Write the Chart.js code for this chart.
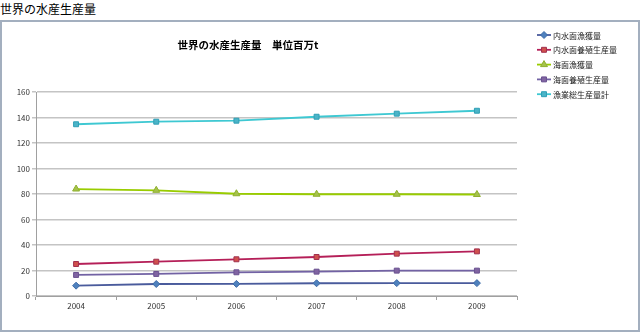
<!DOCTYPE html>
<html>
<head>
<meta charset="utf-8">
<script src="https://cdn.jsdelivr.net/npm/chart.js@4/dist/chart.umd.min.js"></script>
<style>
  body { margin: 0; background: #fff; font-family: "Noto Sans CJK JP", sans-serif; }
  #page-title { position: absolute; left: 0; top: 1px; font-size: 12px; line-height: 15px; color: #000; }
  #box { position: absolute; left: 0; top: 20px; width: 640px; height: 312px; box-sizing: border-box; border: 2px solid #a3afbf; }
  #chart-wrap { width: 636px; height: 308px; }
</style>
</head>
<body>
<div id="page-title">世界の水産生産量</div>
<div id="box"><div id="chart-wrap"><canvas id="chart"></canvas></div></div>
<script>
// Data (単位 百万t)
const years = ['2004', '2005', '2006', '2007', '2008', '2009'];
const seriesNames = ['内水面漁獲量', '内水面養殖生産量', '海面漁獲量', '海面養殖生産量', '漁業総生産量計'];
const inlandCatch = [8.1, 9.4, 9.5, 10.0, 10.1, 10.1];
const inlandAqua = [25.1, 26.9, 28.8, 30.6, 33.2, 35.0];
const marineCatch = [83.9, 82.9, 80.2, 79.8, 79.8, 79.6];
const marineAqua = [16.5, 17.3, 18.6, 19.1, 19.9, 19.9];
const totalProd = [134.7, 136.7, 137.5, 140.6, 143.0, 145.3];
const yTicks = [0, 20, 40, 60, 80, 100, 120, 140, 160];

const chartTitle = '世界の水産生産量　単位百万t';
const jpFont = '"Noto Sans CJK JP", sans-serif';

// line colour, marker fill, marker border, marker shape
const styles = [
    { line: '#4a5b9c', fill: '#4f81bd', border: '#3f6ca8', shape: 'rectRot', r: 3.5 },
    { line: '#b51f58', fill: '#d0504d', border: '#a0304e', shape: 'rect', r: 3.5 },
    { line: '#99cc00', fill: '#a5c24a', border: '#8fb030', shape: 'triangle', r: 4 },
    { line: '#7262a4', fill: '#8064a2', border: '#6a5290', shape: 'rect', r: 3.5 },
    { line: '#3ec8d2', fill: '#4bb4c8', border: '#2f9fb5', shape: 'rect', r: 3.5 }
];
const allValues = [inlandCatch, inlandAqua, marineCatch, marineAqua, totalProd];

const datasets = allValues.map((vals, i) => ({
    label: seriesNames[i],
    data: vals,
    borderColor: styles[i].line,
    borderWidth: 1.8,
    backgroundColor: styles[i].fill,
    pointStyle: styles[i].shape,
    pointRadius: styles[i].r,
    pointBackgroundColor: styles[i].fill,
    pointBorderColor: styles[i].border,
    pointBorderWidth: 1,
    tension: 0
}));

// Title and right-hand legend drawn by hand so they sit where the original has them
const decor = {
    id: 'decor',
    afterDraw(chart) {
        const ctx = chart.ctx;
        ctx.save();
        ctx.fillStyle = '#000';
        ctx.font = 'bold 10.5px ' + jpFont;
        ctx.textAlign = 'center';
        ctx.textBaseline = 'middle';
        ctx.fillText(chartTitle, 246, 23);

        chart.data.datasets.forEach((ds, i) => {
            const y = 13 + i * 14.8;
            ctx.strokeStyle = ds.borderColor;
            ctx.lineWidth = 1.8;
            ctx.beginPath();
            ctx.moveTo(535, y);
            ctx.lineTo(549, y);
            ctx.stroke();
            ctx.fillStyle = ds.pointBackgroundColor;
            ctx.strokeStyle = ds.pointBorderColor;
            ctx.lineWidth = 1;
            Chart.helpers.drawPoint(ctx, { pointStyle: ds.pointStyle, radius: ds.pointRadius, borderWidth: 1 }, 542, y);
            ctx.fillStyle = '#222';
            ctx.font = '8px ' + jpFont;
            ctx.textAlign = 'left';
            ctx.fillText(ds.label, 551, y + 0.5);
        });
        ctx.restore();
    }
};

new Chart(document.getElementById('chart'), {
    type: 'line',
    data: { labels: years, datasets: datasets },
    options: {
        responsive: true,
        maintainAspectRatio: false,
        animation: false,
        layout: { padding: { top: 70, bottom: 14, left: 0, right: 121 } },
        plugins: {
            legend: { display: false },
            title: { display: false },
            tooltip: { enabled: false }
        },
        scales: {
            x: {
                offset: true,
                grid: { offset: true, drawOnChartArea: false, tickLength: 4, color: '#a0a0a0' },
                border: { color: '#a0a0a0', width: 1 },
                ticks: { color: '#333', font: { size: 8, family: jpFont }, padding: 1, maxRotation: 0 },
                afterFit(scale) { scale.height = 20; }
            },
            y: {
                min: 0,
                max: 160,
                afterBuildTicks(scale) { scale.ticks = yTicks.map(v => ({ value: v })); },
                grid: { color: '#c4c4c4', lineWidth: 1.5, tickLength: 4 },
                border: { color: '#a0a0a0', width: 1 },
                ticks: { color: '#333', font: { size: 8, family: jpFont }, padding: 2 },
                afterFit(scale) { scale.width = 34; }
            }
        }
    },
    plugins: [decor]
});
</script>
</body>
</html>
